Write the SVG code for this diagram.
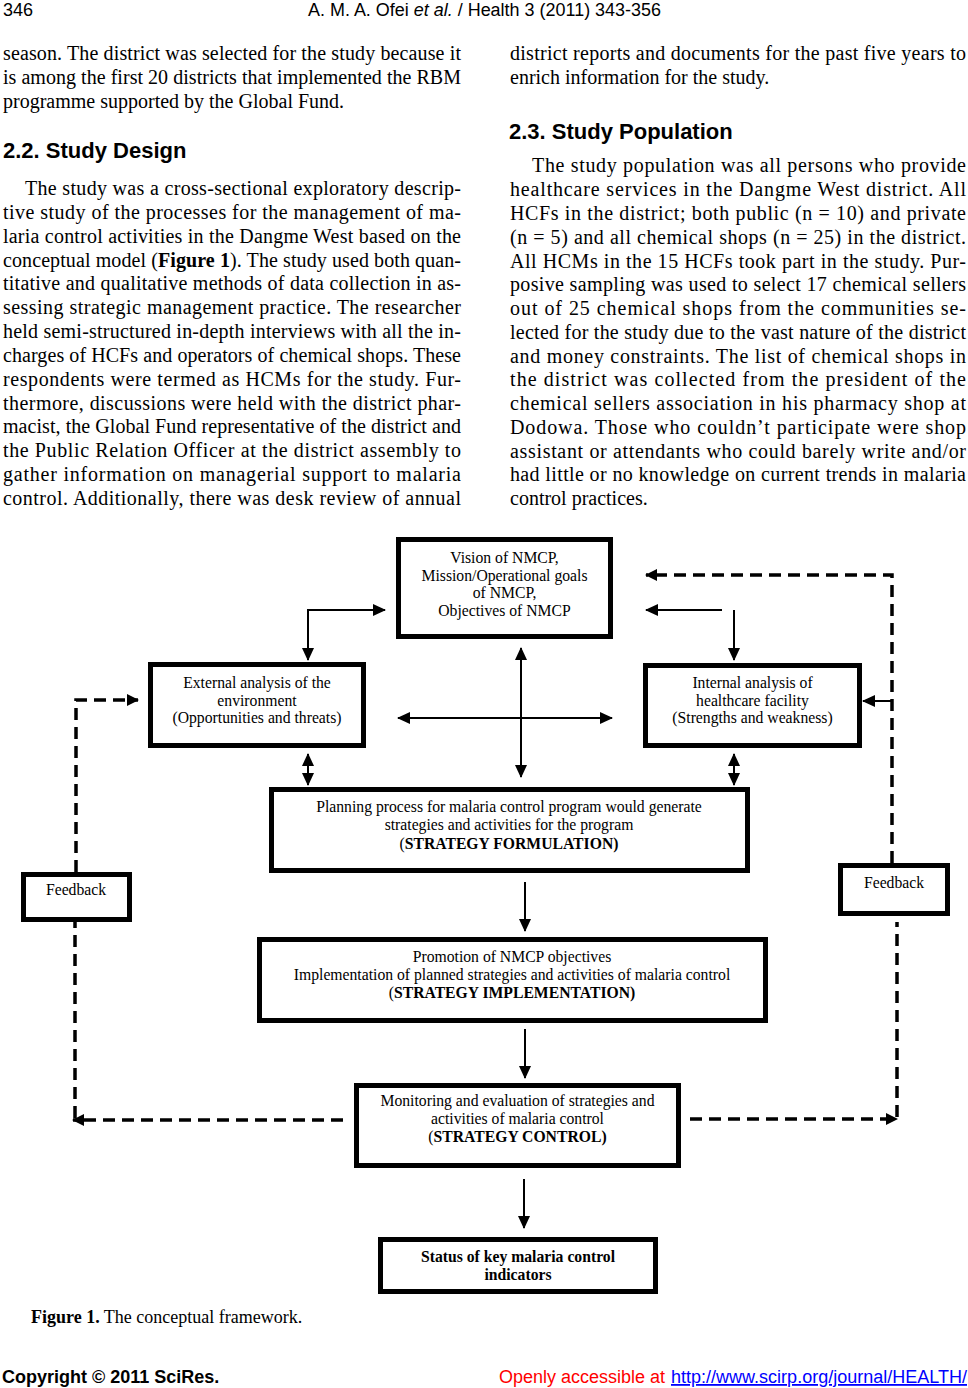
<svg xmlns="http://www.w3.org/2000/svg" width="968" height="1388" viewBox="0 0 968 1388">
<style>
.hd{font-family:"Liberation Sans",Arial,sans-serif;font-size:18px;fill:#000}
.h2{font-family:"Liberation Sans",Arial,sans-serif;font-size:22px;font-weight:bold;fill:#000}
.bt{font-family:"Liberation Serif","Times New Roman",serif;font-size:20px;fill:#000}
.bx{fill:#fff;stroke:#000;stroke-width:5}
.nt{font-family:"Liberation Serif","Times New Roman",serif;font-size:15.7px;fill:#000;text-anchor:middle}
.b{font-weight:bold}
.sl{fill:none;stroke:#000;stroke-width:2}
.dl{fill:none;stroke:#000;stroke-width:3.5;stroke-dasharray:12 7}
.cap{font-family:"Liberation Serif","Times New Roman",serif;font-size:18px;fill:#000}
.ft{font-family:"Liberation Sans",Arial,sans-serif;font-size:18px}
</style>
<defs>
<marker id="ah" markerUnits="userSpaceOnUse" markerWidth="13" markerHeight="12" refX="12" refY="6" orient="auto-start-reverse"><path d="M0,0 L13,6 L0,12 z" fill="#000"/></marker>
<marker id="ahd" markerUnits="userSpaceOnUse" markerWidth="12" markerHeight="12" refX="11" refY="6" orient="auto-start-reverse"><path d="M0,0 L12,6 L0,12 z" fill="#000"/></marker>
</defs>
<rect width="968" height="1388" fill="#fff"/>

<g id="header">
<text class="hd" x="3" y="16">346</text>
<text class="hd" x="308" y="16" textLength="353" lengthAdjust="spacingAndGlyphs">A. M. A. Ofei <tspan font-style="italic">et al.</tspan> / Health 3 (2011) 343-356</text>
</g>

<g id="left-column">
<text class="bt" x="3" y="60" textLength="458" lengthAdjust="spacing">season. The district was selected for the study because it</text>
<text class="bt" x="3" y="84" textLength="458" lengthAdjust="spacing">is among the first 20 districts that implemented the RBM</text>
<text class="bt" x="3" y="108">programme supported by the Global Fund.</text>
<text class="h2" x="3" y="158">2.2. Study Design</text>
<text class="bt" x="25" y="195" textLength="436" lengthAdjust="spacing">The study was a cross-sectional exploratory descrip-</text>
<text class="bt" x="3" y="219" textLength="458" lengthAdjust="spacing">tive study of the processes for the management of ma-</text>
<text class="bt" x="3" y="243" textLength="458" lengthAdjust="spacing">laria control activities in the Dangme West based on the</text>
<text class="bt" x="3" y="267" textLength="458" lengthAdjust="spacing">conceptual model (<tspan class="b">Figure 1</tspan>). The study used both quan-</text>
<text class="bt" x="3" y="290" textLength="458" lengthAdjust="spacing">titative and qualitative methods of data collection in as-</text>
<text class="bt" x="3" y="314" textLength="458" lengthAdjust="spacing">sessing strategic management practice. The researcher</text>
<text class="bt" x="3" y="338" textLength="458" lengthAdjust="spacing">held semi-structured in-depth interviews with all the in-</text>
<text class="bt" x="3" y="362" textLength="458" lengthAdjust="spacing">charges of HCFs and operators of chemical shops. These</text>
<text class="bt" x="3" y="386" textLength="458" lengthAdjust="spacing">respondents were termed as HCMs for the study. Fur-</text>
<text class="bt" x="3" y="410" textLength="458" lengthAdjust="spacing">thermore, discussions were held with the district phar-</text>
<text class="bt" x="3" y="433" textLength="458" lengthAdjust="spacing">macist, the Global Fund representative of the district and</text>
<text class="bt" x="3" y="457" textLength="458" lengthAdjust="spacing">the Public Relation Officer at the district assembly to</text>
<text class="bt" x="3" y="481" textLength="458" lengthAdjust="spacing">gather information on managerial support to malaria</text>
<text class="bt" x="3" y="505" textLength="458" lengthAdjust="spacing">control. Additionally, there was desk review of annual</text>
</g>

<g id="right-column">
<text class="bt" x="510" y="60" textLength="456" lengthAdjust="spacing">district reports and documents for the past five years to</text>
<text class="bt" x="510" y="84">enrich information for the study.</text>
<text class="h2" x="509" y="139">2.3. Study Population</text>
<text class="bt" x="532" y="172" textLength="434" lengthAdjust="spacing">The study population was all persons who provide</text>
<text class="bt" x="510" y="196" textLength="456" lengthAdjust="spacing">healthcare services in the Dangme West district. All</text>
<text class="bt" x="510" y="220" textLength="456" lengthAdjust="spacing">HCFs in the district; both public (n = 10) and private</text>
<text class="bt" x="510" y="244" textLength="456" lengthAdjust="spacing">(n = 5) and all chemical shops (n = 25) in the district.</text>
<text class="bt" x="510" y="268" textLength="456" lengthAdjust="spacing">All HCMs in the 15 HCFs took part in the study. Pur-</text>
<text class="bt" x="510" y="291" textLength="456" lengthAdjust="spacing">posive sampling was used to select 17 chemical sellers</text>
<text class="bt" x="510" y="315" textLength="456" lengthAdjust="spacing">out of 25 chemical shops from the communities se-</text>
<text class="bt" x="510" y="339" textLength="456" lengthAdjust="spacing">lected for the study due to the vast nature of the district</text>
<text class="bt" x="510" y="363" textLength="456" lengthAdjust="spacing">and money constraints. The list of chemical shops in</text>
<text class="bt" x="510" y="386" textLength="456" lengthAdjust="spacing">the district was collected from the president of the</text>
<text class="bt" x="510" y="410" textLength="456" lengthAdjust="spacing">chemical sellers association in his pharmacy shop at</text>
<text class="bt" x="510" y="434" textLength="456" lengthAdjust="spacing">Dodowa. Those who couldn’t participate were shop</text>
<text class="bt" x="510" y="458" textLength="456" lengthAdjust="spacing">assistant or attendants who could barely write and/or</text>
<text class="bt" x="510" y="481" textLength="456" lengthAdjust="spacing">had little or no knowledge on current trends in malaria</text>
<text class="bt" x="510" y="505">control practices.</text>
</g>

<g id="connectors">
<path class="sl" d="M308,660 L308,610 L385,610" marker-start="url(#ah)" marker-end="url(#ah)"/>
<path class="sl" d="M722,610 L646,610" marker-end="url(#ah)"/>
<path class="sl" d="M734,610 L734,660" marker-end="url(#ah)"/>
<path class="sl" d="M521,648 L521,777" marker-start="url(#ah)" marker-end="url(#ah)"/>
<path class="sl" d="M398,718 L612,718" marker-start="url(#ah)" marker-end="url(#ah)"/>
<path class="sl" d="M308,754 L308,785" marker-start="url(#ah)" marker-end="url(#ah)"/>
<path class="sl" d="M734,754 L734,785" marker-start="url(#ah)" marker-end="url(#ah)"/>
<path class="sl" d="M892,701 L863,701" marker-end="url(#ah)"/>
<path class="sl" d="M525,882 L525,931" marker-end="url(#ah)"/>
<path class="sl" d="M525,1029 L525,1078" marker-end="url(#ah)"/>
<path class="sl" d="M524,1179 L524,1228" marker-end="url(#ah)"/>
<path class="dl" d="M892,863 L892,575 L646,575" marker-end="url(#ahd)"/>
<path class="dl" d="M690,1119 L897,1119" marker-end="url(#ahd)"/>
<path class="dl" d="M897,1117 L897,922"/>
<path class="dl" d="M343,1120 L73,1120" marker-end="url(#ahd)"/>
<path class="dl" d="M75,1118 L75,922"/>
<path class="dl" d="M76,872 L76,700 L138,700" marker-end="url(#ahd)"/>
</g>

<g id="vision">
<rect class="bx" x="398.5" y="539.5" width="212" height="97"/>
<text class="nt" x="504.5" y="563">Vision of NMCP,</text>
<text class="nt" x="504.5" y="581">Mission/Operational goals</text>
<text class="nt" x="504.5" y="598">of NMCP,</text>
<text class="nt" x="504.5" y="616">Objectives of NMCP</text>
</g>
<g id="external">
<rect class="bx" x="150.5" y="664.5" width="213" height="81"/>
<text class="nt" x="257" y="688">External analysis of the</text>
<text class="nt" x="257" y="706">environment</text>
<text class="nt" x="257" y="723">(Opportunities and threats)</text>
</g>
<g id="internal">
<rect class="bx" x="645.5" y="665.5" width="214" height="80"/>
<text class="nt" x="752.5" y="688">Internal analysis of</text>
<text class="nt" x="752.5" y="706">healthcare facility</text>
<text class="nt" x="752.5" y="723">(Strengths and weakness)</text>
</g>
<g id="planning">
<rect class="bx" x="271.5" y="789.5" width="476" height="81"/>
<text class="nt" x="509" y="812">Planning process for malaria control program would generate</text>
<text class="nt" x="509" y="830">strategies and activities for the program</text>
<text class="nt" x="509" y="849">(<tspan class="b">STRATEGY FORMULATION)</tspan></text>
</g>
<g id="feedback-left">
<rect class="bx" x="23.5" y="874.5" width="106" height="45"/>
<text class="nt" x="76" y="895">Feedback</text>
</g>
<g id="feedback-right">
<rect class="bx" x="840.5" y="865.5" width="107" height="48"/>
<text class="nt" x="894" y="888">Feedback</text>
</g>
<g id="promotion">
<rect class="bx" x="259.5" y="939.5" width="506" height="81"/>
<text class="nt" x="512" y="962">Promotion of NMCP objectives</text>
<text class="nt" x="512" y="980">Implementation of planned strategies and activities of malaria control</text>
<text class="nt" x="512" y="998">(<tspan class="b">STRATEGY IMPLEMENTATION)</tspan></text>
</g>
<g id="monitoring">
<rect class="bx" x="356.5" y="1085.5" width="322" height="80"/>
<text class="nt" x="517.5" y="1106">Monitoring and evaluation of strategies and</text>
<text class="nt" x="517.5" y="1124">activities of malaria control</text>
<text class="nt" x="517.5" y="1142">(<tspan class="b">STRATEGY CONTROL)</tspan></text>
</g>
<g id="status">
<rect class="bx" x="380.5" y="1239.5" width="275" height="52"/>
<text class="nt b" x="518" y="1262">Status of key malaria control</text>
<text class="nt b" x="518" y="1280">indicators</text>
</g>

<g id="caption">
<text class="cap" x="31" y="1323"><tspan class="b">Figure 1.</tspan> The conceptual framework.</text>
</g>

<g id="footer">
<text class="ft b" x="2" y="1383" fill="#000">Copyright © 2011 SciRes.</text>
<text class="ft" x="499" y="1383" fill="#ff0000">Openly accessible at </text>
<text class="ft" x="671" y="1383" fill="#0000ff" text-decoration="underline" textLength="296" lengthAdjust="spacingAndGlyphs">http://www.scirp.org/journal/HEALTH/</text>
</g>
</svg>
